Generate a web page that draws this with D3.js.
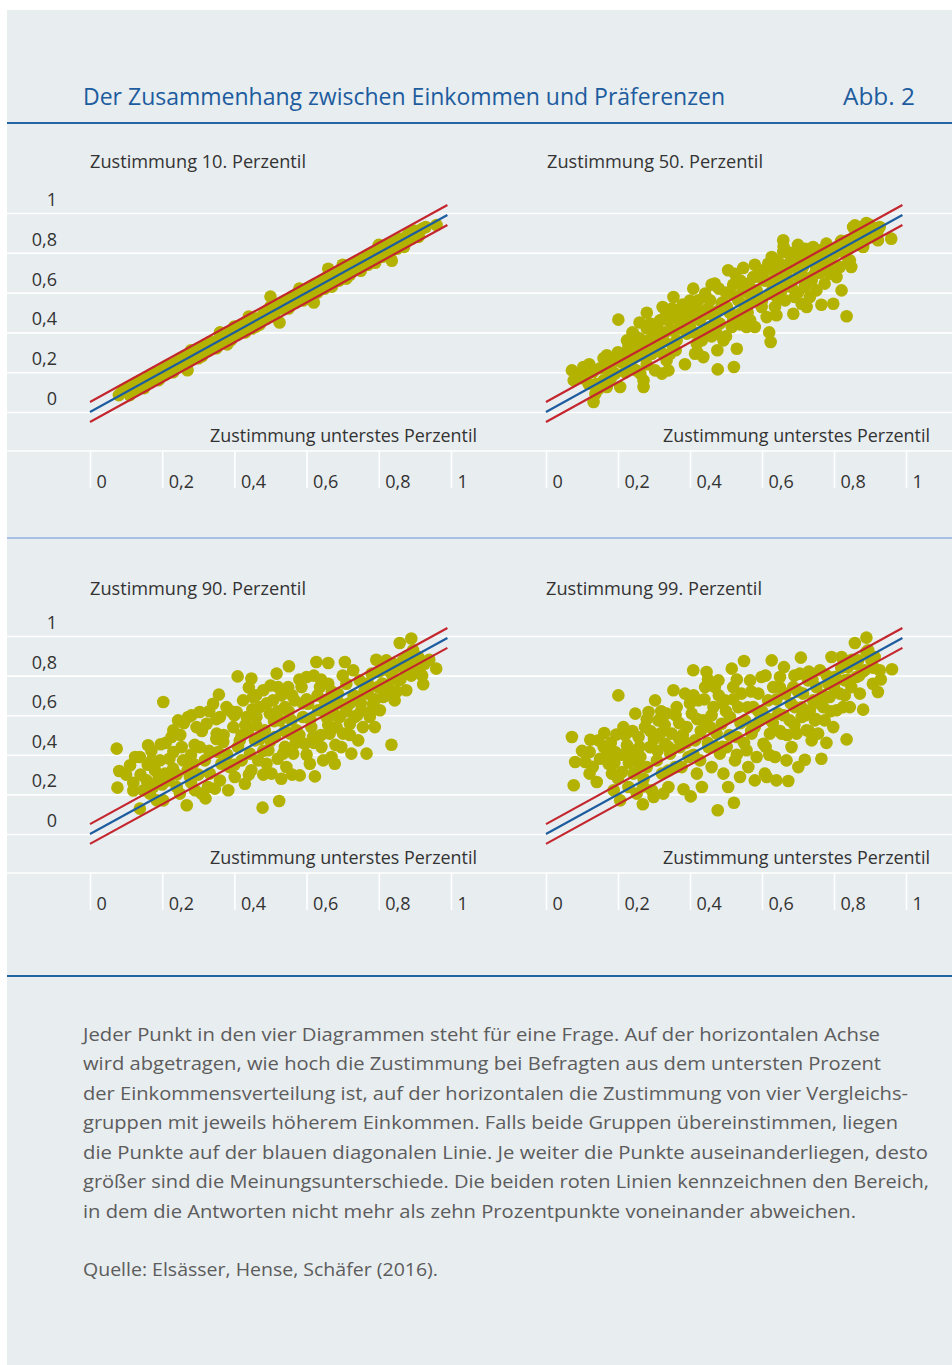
<!DOCTYPE html>
<html><head><meta charset="utf-8">
<script src="https://cdn.jsdelivr.net/npm/d3@7"></script>
<style>body{margin:0;background:#fff} svg{display:block}</style>
</head><body>
<svg id="c" width="952" height="1365"></svg>
<script>
// ---------------- DATA ----------------
const titleText = "Der Zusammenhang zwischen Einkommen und Präferenzen";
const figLabel = "Abb. 2";
const panelTitles = ["Zustimmung 10. Perzentil","Zustimmung 50. Perzentil","Zustimmung 90. Perzentil","Zustimmung 99. Perzentil"];
const xAxisTitle = "Zustimmung unterstes Perzentil";
const tickValues = [0,0.2,0.4,0.6,0.8,1];
const tickLabels = ["0","0,2","0,4","0,6","0,8","1"];
const bandOffset = 0.05;
const diagonalX = [0, 0.99];

const pts10 = [[0.08,0.085],[0.10,0.12],[0.11,0.10],[0.12,0.13],[0.13,0.115],[0.14,0.16],[0.15,0.14],[0.16,0.17],[0.17,0.155],[0.18,0.20],[0.19,0.18],[0.20,0.21],[0.21,0.19],[0.22,0.24],[0.23,0.22],[0.24,0.25],[0.25,0.235],[0.26,0.28],[0.27,0.21],[0.27,0.26],[0.28,0.29],[0.29,0.27],[0.30,0.32],[0.31,0.30],[0.32,0.34],[0.33,0.31],[0.34,0.35],[0.35,0.33],[0.36,0.38],[0.37,0.36],[0.38,0.40],[0.39,0.37],[0.40,0.43],[0.41,0.39],[0.42,0.44],[0.43,0.41],[0.44,0.45],[0.45,0.42],[0.46,0.47],[0.47,0.45],[0.48,0.49],[0.49,0.47],[0.50,0.53],[0.50,0.58],[0.51,0.49],[0.52,0.54],[0.525,0.45],[0.53,0.52],[0.54,0.56],[0.55,0.53],[0.56,0.58],[0.57,0.55],[0.58,0.60],[0.59,0.57],[0.60,0.62],[0.61,0.59],[0.62,0.55],[0.62,0.64],[0.63,0.61],[0.64,0.65],[0.65,0.62],[0.66,0.72],[0.66,0.67],[0.67,0.64],[0.68,0.69],[0.69,0.66],[0.70,0.72],[0.71,0.68],[0.72,0.74],[0.73,0.71],[0.74,0.76],[0.75,0.72],[0.76,0.77],[0.77,0.74],[0.78,0.80],[0.79,0.76],[0.80,0.81],[0.81,0.78],[0.82,0.84],[0.83,0.80],[0.836,0.76],[0.84,0.85],[0.85,0.82],[0.86,0.87],[0.87,0.84],[0.88,0.89],[0.89,0.87],[0.90,0.91],[0.91,0.89],[0.92,0.92],[0.96,0.94],
[0.09,0.11],[0.11,0.085],[0.13,0.15],[0.15,0.12],[0.17,0.19],[0.19,0.16],[0.21,0.23],[0.23,0.20],[0.25,0.27],[0.27,0.245],[0.29,0.31],[0.31,0.28],[0.33,0.35],[0.35,0.32],[0.37,0.39],[0.39,0.36],[0.41,0.43],[0.43,0.40],[0.45,0.47],[0.47,0.44],[0.49,0.51],[0.51,0.48],[0.53,0.55],[0.55,0.52],[0.57,0.59],[0.59,0.56],[0.61,0.63],[0.63,0.60],[0.65,0.67],[0.67,0.63],[0.69,0.71],[0.71,0.67],[0.73,0.75],[0.75,0.71],[0.77,0.79],[0.79,0.75],[0.81,0.83],[0.83,0.79],[0.85,0.86],[0.87,0.83],[0.89,0.90],[0.91,0.88],[0.93,0.93],[0.44,0.48],[0.46,0.43],[0.36,0.40],[0.38,0.34],[0.28,0.31],[0.30,0.27],[0.58,0.62],[0.60,0.57],[0.70,0.74],[0.72,0.69],[0.80,0.84],[0.82,0.79]];

const pts50 = [[.072,.209],[.077,.159],[.104,.226],[.114,.193],[.118,.142],[.132,.05],[.137,.092],[.146,.117],[.16,.159],[.169,.126],[.169,.285],[.174,.209],[.188,.26],[.192,.193],[.201,.464],[.206,.126],[.197,.276],
[.215,.293],[.225,.36],[.229,.327],[.234,.26],[.238,.226],[.243,.394],[.248,.276],[.252,.343],[.257,.31],[.262,.193],[.271,.126],[.271,.159],[.275,.276],[.28,.499],[.285,.36],[.289,.444],[.294,.293],[.299,.394],[.303,.209],[.308,.427],[.312,.327],[.317,.461],[.322,.193],[.324,.528],[.326,.36],[.331,.477],[.335,.26],[.34,.209],[.345,.293],[.349,.41],[.354,.578],[.359,.477],[.363,.36],[.372,.444],[.382,.494],[.386,.24],[.391,.394],[.40,.427],[.409,.62],[.409,.511],[.414,.293],[.419,.343],[.423,.561],[.428,.461],[.433,.36],[.437,.276],[.442,.595],[.446,.494],[.456,.427],[.456,.561],[.465,.494],[.469,.645],[.474,.394],[.476,.31],[.477,.214],[.483,.444],[.488,.544],[.493,.36],[.502,.528],[.506,.712],[.511,.595],[.516,.427],[.52,.477],[.522,.226],[.525,.695],[.53,.318],[.534,.561],[.539,.494],[.548,.724],[.548,.611],[.557,.427],[.557,.528],[.562,.645],[.567,.461],[.571,.561],[.576,.678],[.58,.427],[.585,.611],[.594,.712],[.599,.528],[.604,.662],[.613,.477],[.617,.745],[.622,.595],[.624,.352],[.627,.779],[.631,.662],[.636,.528],[.64,.486],[.645,.695],[.65,.745],[.654,.611],[.659,.863],[.659,.804],[.664,.561],[.668,.695],[.677,.729],[.682,.628],[.687,.494],[.691,.578],[.696,.779],[.701,.678],[.705,.804],[.71,.544],[.714,.729],[.719,.628],[.724,.528],[.728,.779],[.733,.578],[.738,.662],[.742,.829],[.747,.695],[.751,.611],[.761,.812],[.765,.539],[.77,.729],[.774,.645],[.779,.846],[.784,.762],[.788,.695],[.798,.544],[.802,.796],[.807,.678],[.816,.729],[.821,.611],[.825,.812],[.835,.481],[.839,.863],[.844,.762],[.848,.729],[.853,.93],[.858,.938],[.862,.846],[.872,.896],[.881,.829],[.89,.95],[.895,.879],[.904,.93],[.913,.905],[.922,.863],[.927,.93],[.959,.871],
[.10,.17],[.13,.20],[.15,.22],[.18,.17],[.21,.25],[.23,.29],[.25,.21],[.27,.33],[.29,.31],[.31,.36],[.33,.40],[.35,.34],[.37,.42],[.39,.45],[.41,.40],[.43,.48],[.45,.52],[.47,.46],[.49,.55],[.51,.50],[.53,.58],[.55,.54],[.57,.62],[.59,.58],[.61,.66],[.63,.62],[.65,.70],[.67,.66],[.69,.73],[.71,.69],[.73,.76],[.75,.73],[.77,.80],[.79,.77],[.81,.83],[.83,.80],[.85,.87],[.87,.84],[.89,.91],[.91,.88],[.20,.30],[.24,.40],[.28,.42],[.32,.30],[.36,.50],[.40,.56],[.44,.40],[.48,.62],[.52,.64],[.56,.50],[.60,.70],[.64,.58],[.68,.80],[.72,.64],[.76,.70],[.80,.72],[.84,.82],[.62,.40],[.50,.38],[.42,.30],
[.09,.19],[.12,.24],[.14,.14],[.16,.27],[.18,.23],[.22,.20],[.24,.33],[.26,.37],[.28,.24],[.30,.44],[.32,.38],[.34,.46],[.36,.31],[.38,.54],[.40,.48],[.42,.52],[.44,.58],[.46,.38],[.48,.51],[.50,.60],[.52,.46],[.54,.66],[.56,.60],[.58,.68],[.60,.56],[.62,.72],[.64,.76],[.66,.64],[.68,.76],[.70,.60],[.72,.82],[.74,.68],[.76,.78],[.78,.72],[.80,.80],[.82,.86],[.84,.76],[.86,.90],[.88,.86],[.90,.94],[.92,.90],[.87,.93],[.66,.83],[.70,.84],[.58,.74],[.46,.64],[.35,.52],[.26,.45],[.44,.50],[.54,.44]];

const pts90 = [[.074,.431],[.081,.318],[.076,.234],[.111,.347],[.120,.258],[.125,.389],[.138,.389],[.138,.128],[.148,.221],[.157,.271],[.161,.448],[.166,.204],[.171,.372],[.175,.237],[.180,.322],[.185,.170],[.194,.372],[.196,.453],[.203,.667],[.203,.170],[.208,.305],[.217,.271],[.226,.490],[.231,.524],[.231,.414],[.240,.237],[.244,.574],[.249,.204],[.254,.439],[.258,.372],[.268,.145],[.272,.591],[.277,.288],[.281,.599],[.286,.355],[.291,.221],[.295,.540],[.304,.616],[.304,.439],[.309,.204],[.318,.372],[.323,.557],[.327,.237],[.332,.305],[.341,.658],[.346,.229],[.351,.507],[.355,.414],[.357,.704],[.360,.591],[.364,.355],[.369,.465],[.378,.641],[.383,.221],[.387,.338],[.397,.540],[.401,.288],[.406,.616],[.409,.796],[.415,.473],[.420,.372],[.424,.675],[.429,.254],[.434,.591],[.438,.524],[.443,.406],[.447,.785],[.447,.322],[.452,.692],[.457,.473],[.461,.591],[.466,.372],[.470,.641],[.478,.133],[.480,.726],[.484,.524],[.489,.355],[.494,.423],[.498,.608],[.503,.305],[.507,.675],[.512,.490],[.517,.810],[.521,.742],[.524,.167],[.526,.574],[.530,.279],[.535,.406],[.540,.641],[.544,.338],[.549,.742],[.551,.847],[.554,.507],[.558,.574],[.563,.406],[.567,.675],[.572,.524],[.581,.296],[.586,.742],[.590,.591],[.595,.456],[.600,.793],[.604,.658],[.609,.355],[.613,.540],[.618,.490],[.623,.291],[.627,.869],[.632,.625],[.637,.742],[.641,.439],[.646,.372],[.650,.675],[.655,.591],[.660,.864],[.660,.759],[.664,.507],[.669,.389],[.673,.641],[.678,.355],[.683,.540],[.687,.709],[.692,.591],[.696,.439],[.701,.507],[.706,.869],[.710,.759],[.715,.658],[.720,.557],[.724,.406],[.729,.827],[.733,.591],[.738,.692],[.743,.473],[.747,.776],[.752,.625],[.756,.540],[.766,.406],[.770,.709],[.775,.591],[.780,.810],[.784,.658],[.789,.540],[.793,.880],[.798,.742],[.803,.625],[.807,.827],[.812,.692],[.821,.877],[.826,.742],[.835,.451],[.839,.793],[.844,.675],[.849,.843],[.853,.776],[.858,.965],[.867,.877],[.876,.726],[.881,.810],[.890,.987],[.895,.928],[.899,.860],[.909,.894],[.913,.827],[.923,.756],[.927,.860],[.959,.835],
[.14,.30],[.17,.42],[.20,.25],[.22,.38],[.25,.50],[.27,.32],[.29,.45],[.31,.52],[.33,.42],[.35,.58],[.37,.50],[.39,.62],[.41,.44],[.43,.55],[.45,.63],[.47,.48],[.49,.66],[.51,.57],[.53,.70],[.55,.62],[.57,.46],[.59,.66],[.61,.58],[.63,.70],[.65,.64],[.67,.72],[.69,.66],[.71,.62],[.73,.70],[.75,.66],[.77,.76],[.79,.68],[.81,.76],[.83,.82],[.85,.72],[.87,.84],[.89,.80],[.40,.35],[.44,.30],[.48,.42],[.52,.38],[.56,.30],[.60,.40],[.64,.50],[.68,.45],[.72,.50],[.36,.27],[.32,.18],[.28,.26],[.24,.30],[.46,.70],[.50,.75],[.58,.78],[.62,.80],[.54,.52],[.66,.55],
[.10,.30],[.12,.22],[.16,.35],[.19,.28],[.21,.46],[.23,.33],[.26,.56],[.28,.40],[.30,.30],[.33,.62],[.35,.48],[.38,.40],[.40,.60],[.42,.50],[.44,.74],[.46,.55],[.48,.30],[.50,.47],[.52,.62],[.54,.44],[.56,.70],[.58,.50],[.60,.68],[.62,.46],[.64,.78],[.66,.68],[.68,.60],[.70,.80],[.72,.66],[.74,.60],[.76,.72],[.78,.62],[.80,.82],[.82,.70],[.84,.86],[.86,.78],[.88,.90],[.90,.86],[.92,.80],[.94,.88]];

const pts99 = [[.072,.490],[.081,.364],[.077,.246],[.109,.364],[.121,.414],[.123,.476],[.121,.305],[.141,.263],[.146,.473],[.162,.510],[.169,.406],[.174,.355],[.183,.305],[.188,.221],[.195,.502],[.192,.414],[.201,.700],[.206,.170],[.211,.313],[.215,.540],[.225,.448],[.229,.237],[.234,.372],[.243,.305],[.248,.608],[.252,.204],[.257,.490],[.262,.389],[.269,.150],[.271,.279],[.275,.540],[.280,.338],[.285,.616],[.289,.439],[.294,.221],[.299,.187],[.303,.675],[.308,.372],[.312,.574],[.317,.507],[.322,.305],[.326,.204],[.331,.456],[.335,.608],[.340,.237],[.345,.406],[.349,.507],[.354,.726],[.359,.338],[.363,.641],[.372,.439],[.377,.338],[.382,.226],[.386,.709],[.391,.540],[.396,.389],[.402,.190],[.405,.608],[.409,.827],[.414,.473],[.419,.305],[.423,.675],[.428,.372],[.433,.237],[.437,.574],[.442,.742],[.446,.818],[.451,.439],[.456,.540],[.460,.338],[.465,.641],[.469,.742],[.474,.507],[.477,.120],[.479,.776],[.483,.406],[.488,.557],[.493,.305],[.497,.675],[.502,.439],[.506,.237],[.511,.591],[.516,.835],[.520,.742],[.522,.158],[.525,.372],[.530,.490],[.534,.641],[.539,.288],[.543,.709],[.550,.874],[.553,.574],[.557,.423],[.562,.338],[.567,.776],[.571,.507],[.576,.641],[.580,.271],[.585,.389],[.590,.709],[.594,.574],[.599,.793],[.604,.456],[.608,.305],[.613,.288],[.617,.675],[.622,.507],[.627,.877],[.631,.742],[.636,.389],[.640,.271],[.645,.608],[.650,.793],[.654,.507],[.661,.843],[.664,.709],[.668,.372],[.673,.268],[.677,.574],[.682,.439],[.687,.742],[.691,.641],[.696,.507],[.701,.338],[.705,.810],[.708,.891],[.710,.591],[.714,.709],[.719,.375],[.724,.524],[.728,.776],[.733,.625],[.738,.473],[.742,.675],[.747,.574],[.751,.742],[.756,.507],[.761,.827],[.765,.380],[.770,.641],[.774,.574],[.779,.460],[.784,.759],[.788,.692],[.793,.894],[.798,.540],[.802,.793],[.807,.625],[.816,.709],[.821,.894],[.825,.641],[.830,.776],[.835,.478],[.839,.843],[.844,.641],[.848,.742],[.858,.965],[.862,.793],[.867,.877],[.872,.709],[.881,.628],[.885,.827],[.890,.992],[.895,.928],[.904,.877],[.908,.759],[.913,.894],[.922,.717],[.927,.827],[.961,.832],
[.15,.38],[.18,.46],[.21,.40],[.24,.52],[.26,.44],[.28,.58],[.30,.48],[.33,.55],[.36,.60],[.38,.50],[.40,.66],[.42,.58],[.44,.68],[.46,.60],[.48,.70],[.50,.62],[.52,.68],[.54,.56],[.56,.64],[.58,.54],[.60,.62],[.62,.58],[.64,.68],[.66,.60],[.68,.66],[.70,.72],[.72,.60],[.74,.78],[.76,.66],[.78,.80],[.80,.74],[.82,.84],[.84,.78],[.86,.86],[.88,.82],[.20,.28],[.23,.36],[.27,.24],[.31,.42],[.34,.32],[.37,.48],[.41,.40],[.45,.46],[.49,.44],[.53,.40],[.57,.52],[.61,.44],[.65,.52],[.69,.55],[.73,.52],
[.10,.42],[.13,.34],[.16,.44],[.19,.36],[.22,.50],[.24,.42],[.26,.34],[.29,.52],[.32,.62],[.34,.44],[.37,.56],[.39,.46],[.41,.70],[.43,.52],[.45,.78],[.47,.44],[.49,.66],[.51,.50],[.53,.78],[.55,.46],[.57,.72],[.59,.62],[.61,.80],[.63,.56],[.65,.74],[.67,.50],[.69,.80],[.71,.64],[.73,.82],[.75,.58],[.77,.70],[.79,.62],[.81,.78],[.83,.70],[.85,.88],[.87,.80],[.89,.92],[.91,.84],[.93,.78],[.62,.40]];

const noteLines = [
 "Jeder Punkt in den vier Diagrammen steht für eine Frage. Auf der horizontalen Achse",
 "wird abgetragen, wie hoch die Zustimmung bei Befragten aus dem untersten Prozent",
 "der Einkommensverteilung ist, auf der horizontalen die Zustimmung von vier Vergleichs-",
 "gruppen mit jeweils höherem Einkommen. Falls beide Gruppen übereinstimmen, liegen",
 "die Punkte auf der blauen diagonalen Linie. Je weiter die Punkte auseinanderliegen, desto",
 "größer sind die Meinungsunterschiede. Die beiden roten Linien kennzeichnen den Bereich,",
 "in dem die Antworten nicht mehr als zehn Prozentpunkte voneinander abweichen."
];
const sourceText = "Quelle: Elsässer, Hense, Schäfer (2016).";

// ---------------- LAYOUT / STYLE ----------------
const FONT = "'Open Sans', 'Noto Sans', sans-serif";
const C = {bg:"#e8edf0", title:"#1d5c9e", rule:"#2463a4", sep:"#a9bfe8", text:"#333333", note:"#5c5c5c",
           dot:"#b4b200", red:"#c4262e", blue:"#1d5c9e", grid:"#ffffff"};
const noteWidths = [797, 798, 825, 815, 845, 846, 773];

const svg = d3.select("#c");
svg.append("rect").attr("x",7).attr("y",10).attr("width",945).attr("height",1355).attr("fill",C.bg);

function txt(x, y, s, size, fill, len, anchor){
  const t = svg.append("text").attr("x",x).attr("y",y).attr("font-family",FONT)
    .attr("font-size",size).attr("fill",fill).text(s);
  if (anchor) t.attr("text-anchor",anchor);
  if (len) t.attr("textLength",len).attr("lengthAdjust","spacingAndGlyphs");
  return t;
}

txt(83, 105, titleText, 24, C.title, 642);
txt(843, 105, figLabel, 24, C.title, 72);

function hline(y, x1, x2, color, w){
  svg.append("line").attr("x1",x1).attr("x2",x2).attr("y1",y).attr("y2",y)
    .attr("stroke",color).attr("stroke-width",w);
}
hline(123, 7, 952, C.rule, 2);
hline(538, 7, 952, C.sep, 2);
hline(976, 7, 952, C.rule, 2.2);

const panels = [
  {pts:pts10, gl:7,   gr:480, x0:90,  x1:451, y0:412, y1:213, axisY:451, showY:true,  tx:90,  ty:168, atr:477, aty:442},
  {pts:pts50, gl:480, gr:952, x0:546, x1:906, y0:412, y1:213, axisY:451, showY:false, tx:547, ty:168, atr:930, aty:442},
  {pts:pts90, gl:7,   gr:480, x0:90,  x1:451, y0:834, y1:636, axisY:873, showY:true,  tx:90,  ty:595, atr:477, aty:864},
  {pts:pts99, gl:480, gr:952, x0:546, x1:906, y0:834, y1:636, axisY:873, showY:false, tx:546, ty:595, atr:930, aty:864}
];

panels.forEach((p, i) => {
  const x = d3.scaleLinear().domain([0,1]).range([p.x0, p.x1]);
  const y = d3.scaleLinear().domain([0,1]).range([p.y0, p.y1]);
  const g = svg.append("g");

  // horizontal gridlines
  g.append("g").attr("transform",`translate(${p.gl},0)`)
    .call(d3.axisRight(y).tickValues(tickValues).tickSize(p.gr - p.gl).tickFormat(""))
    .call(a => a.select(".domain").remove())
    .call(a => a.selectAll("line").attr("stroke",C.grid).attr("stroke-width",1.6));

  // x axis base line
  g.append("line").attr("x1",p.gl).attr("x2",p.gr).attr("y1",p.axisY).attr("y2",p.axisY)
    .attr("stroke",C.grid).attr("stroke-width",1.6);

  // x ticks + labels
  g.append("g").attr("transform",`translate(0,${p.axisY})`)
    .call(d3.axisBottom(x).tickValues(tickValues).tickSize(37).tickFormat((d,k) => tickLabels[k]))
    .call(a => a.select(".domain").remove())
    .call(a => a.selectAll("line").attr("stroke",C.grid).attr("stroke-width",1.6))
    .call(a => a.selectAll("text").attr("x",6).attr("y",37).attr("dy",0)
      .attr("text-anchor","start").attr("fill",C.text).attr("font-size",18).attr("font-family",FONT));

  // y labels
  if (p.showY) {
    g.selectAll("text.ylab").data(tickValues).join("text").attr("class","ylab")
      .attr("x",57).attr("y",d => y(d) - 7).attr("text-anchor","end")
      .attr("font-family",FONT).attr("font-size",18).attr("fill",C.text)
      .text((d,k) => tickLabels[k]);
  }

  // titles
  txt(p.tx, p.ty, panelTitles[i], 18, C.text, 216);
  txt(p.atr - 267, p.aty, xAxisTitle, 18, C.text, 267);

  // dots
  g.append("g").selectAll("circle").data(p.pts).join("circle")
    .attr("cx",d => x(d[0])).attr("cy",d => y(d[1])).attr("r",6.3).attr("fill",C.dot);

  // diagonal and band
  const line = d3.line().x(d => x(d[0])).y(d => y(d[1]));
  [[bandOffset, C.red],[-bandOffset, C.red],[0, C.blue]].forEach(([off, col]) => {
    g.append("path").attr("d", line(diagonalX.map(v => [v, v + off])))
      .attr("fill","none").attr("stroke",col).attr("stroke-width",2.2);
  });
});

// note text
noteLines.forEach((s, k) => txt(83, 1041 + k * 29.45, s, 18.5, C.note, noteWidths[k]));
txt(83, 1276, sourceText, 18.5, C.note, 355);
</script>
</body></html>
